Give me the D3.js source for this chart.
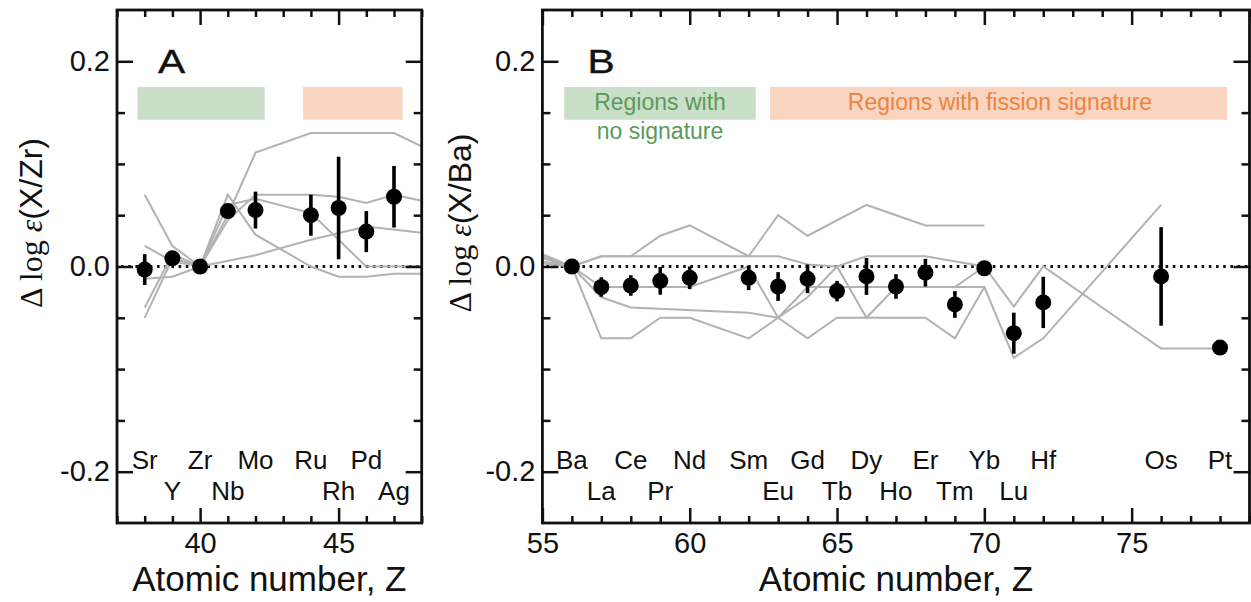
<!DOCTYPE html>
<html>
<head>
<meta charset="UTF-8">
<script src="https://cdn.jsdelivr.net/npm/d3@7"></script>
<style>
  body { margin: 0; background: #fff; }
  svg text { font-family: "Liberation Sans", Arial, Helvetica, sans-serif; fill: #111; }
</style>
</head>
<body>
<svg id="chart" width="1251" height="602"></svg>
<script>
// ---- panel A : X/Zr ----
const zA    = [38, 39, 40, 41, 42, 44, 45, 46, 47];
const symA  = ["Sr", "Y", "Zr", "Nb", "Mo", "Ru", "Rh", "Pd", "Ag"];
const rowA  = [1, 2, 1, 2, 1, 1, 2, 1, 2];
const obsA  = [-0.003, 0.008, 0, 0.054, 0.055, 0.050, 0.057, 0.034, 0.068];
const errA  = [0.015, 0.006, 0, 0.005, 0.018, 0.020, 0.050, 0.020, 0.030];

// model curves, panel A (null = no vertex)
const zModA = [38, 39, 40, 41, 42, 44, 45, 46, 47, 48];
const modA1 = [-0.040, 0.012, 0, 0.050, 0.111, 0.130, 0.130, 0.130, 0.130, 0.117];
const modA2 = [0.020, 0.005, 0, 0.045, 0.070, 0.070, 0.068, 0.062, 0.070, 0.064];
const modA3 = [0.070, 0.020, 0, 0.070, 0.031, 0.000, -0.010, -0.010, -0.007, -0.007];
const modA4 = [-0.012, -0.010, 0, null, 0.011, 0.026, null, 0.039, null, 0.033];
const modA5 = [-0.050, 0.008, 0, 0.060, 0.066, 0.052, 0.026, 0.000, 0.000, 0.000];

// ---- panel B : X/Ba ----
const zB    = [56, 57, 58, 59, 60, 62, 63, 64, 65, 66, 67, 68, 69, 70, 71, 72, 76, 78];
const symB  = ["Ba", "La", "Ce", "Pr", "Nd", "Sm", "Eu", "Gd", "Tb", "Dy", "Ho", "Er", "Tm", "Yb", "Lu", "Hf", "Os", "Pt"];
const rowB  = [1, 2, 1, 2, 1, 1, 2, 1, 2, 1, 2, 1, 2, 1, 2, 1, 1, 1];
const obsB  = [0, -0.020, -0.0185, -0.014, -0.011, -0.011, -0.0195, -0.012, -0.024, -0.0097, -0.0195, -0.006, -0.037, -0.0017, -0.065, -0.035, -0.0097, -0.079];
const errB  = [0, 0.0095, 0.010, 0.0135, 0.011, 0.012, 0.014, 0.014, 0.010, 0.018, 0.012, 0.0135, 0.013, 0.005, 0.020, 0.025, 0.048, 0];

const zModB = [55, 56, 57, 58, 59, 60, 62, 63, 64, 65, 66, 67, 68, 69, 70, 71, 72, 76, 78];
const modB1 = [0.012, 0, 0.010, 0.010, 0.030, 0.040, 0.010, 0.050, 0.030, null, 0.060, null, 0.040, null, 0.040, null, null, null, null];
const modB2 = [0.010, 0, 0.010, 0.010, null, 0.010, 0.010, 0.010, 0.002, 0.000, 0.010, null, 0.010, null, 0.000, -0.039, 0.000, -0.080, -0.080];
const modB3 = [0.008, 0, -0.020, -0.020, -0.020, -0.020, 0.000, -0.050, -0.020, -0.020, -0.020, -0.020, -0.020, -0.020, -0.020, -0.089, -0.070, 0.060, null];
const modB4 = [0.005, 0, -0.030, -0.040, null, null, -0.045, -0.050, -0.030, 0.000, -0.050, -0.020, -0.020, -0.020, 0.000, null, null, null, null];
const modB5 = [0.003, 0, -0.070, -0.070, -0.050, -0.050, -0.070, -0.050, -0.070, -0.050, null, null, -0.050, -0.070, -0.020, null, null, null, null];

const svg = d3.select("#chart");
const SANS = '"Liberation Sans", Arial, sans-serif';
const SERIF = '"Liberation Serif", "DejaVu Serif", serif';

function drawPanel(p) {
  const x = d3.scaleLinear().domain(p.xDomain).range([p.left, p.right]);
  const y = d3.scaleLinear().domain([-0.25, 0.25]).range([p.bottom, p.top]);
  const g = svg.append("g");

  // shaded regions
  p.bands.forEach(b => {
    g.append("rect")
      .attr("x", x(b.z0)).attr("width", x(b.z1) - x(b.z0))
      .attr("y", y(0.175)).attr("height", y(0.143) - y(0.175))
      .attr("fill", b.fill);
  });

  // zero line
  g.append("line")
    .attr("x1", x(p.xDomain[0]) + 4).attr("x2", x(p.xDomain[1]) - 2)
    .attr("y1", y(0)).attr("y2", y(0))
    .attr("stroke", "#111").attr("stroke-width", 2.8)
    .attr("stroke-dasharray", "2.6,4.6");

  // model curves
  const line = d3.line().x(d => x(d[0])).y(d => y(d[1]));
  p.models.forEach(m => {
    const pts = p.zMod.map((z, i) => [z, m[i]]).filter(d => d[1] !== null);
    g.append("path").attr("d", line(pts))
      .attr("fill", "none").attr("stroke", "#b2b2b2").attr("stroke-width", 2);
  });

  // error bars + points
  p.z.forEach((z, i) => {
    if (p.err[i] > 0) {
      g.append("line")
        .attr("x1", x(z)).attr("x2", x(z))
        .attr("y1", y(p.obs[i] - p.err[i])).attr("y2", y(p.obs[i] + p.err[i]))
        .attr("stroke", "#000").attr("stroke-width", 3.6);
    }
  });
  g.selectAll("circle.pt").data(p.z).enter().append("circle")
    .attr("cx", d => x(d)).attr("cy", (d, i) => y(p.obs[i]))
    .attr("r", 8).attr("fill", "#000");

  // element labels
  p.z.forEach((z, i) => {
    g.append("text").attr("x", x(z)).attr("y", p.row[i] === 1 ? 469 : 500)
      .attr("text-anchor", "middle").attr("font-size", 26).text(p.sym[i]);
  });

  // axes: major + minor, ticks inward on all sides
  const xMajor = d3.range(Math.ceil(p.xDomain[0] / 5) * 5, p.xDomain[1] + 0.01, 5);
  const xMinor = d3.range(p.xDomain[0], p.xDomain[1] + 0.01, 1).filter(v => v % 5 !== 0);
  const yMajor = [-0.2, 0, 0.2];
  const yMinor = [-0.15, -0.1, -0.05, 0.05, 0.1, 0.15];

  const ax = (gen, tr, sc, vals, size, labels) => {
    const a = gen(sc).tickValues(vals).tickSizeInner(-size).tickSizeOuter(0).tickPadding(labels ? 9 : 0);
    a.tickFormat(labels ? labels : () => "");
    const s = g.append("g").attr("transform", tr).call(a);
    s.select(".domain").remove();
    s.selectAll(".tick line").attr("stroke", "#111").attr("stroke-width", 2.5);
    s.selectAll("text").attr("font-size", 29).attr("fill", "#111").style("font-family", SANS);
    return s;
  };
  ax(d3.axisBottom, `translate(0,${p.bottom})`, x, xMajor, 15, d => d);
  ax(d3.axisBottom, `translate(0,${p.bottom})`, x, xMinor, 7);
  ax(d3.axisTop, `translate(0,${p.top})`, x, xMajor, 15);
  ax(d3.axisTop, `translate(0,${p.top})`, x, xMinor, 7);
  const yl = ax(d3.axisLeft, `translate(${p.left},0)`, y, yMajor, 16, d => d.toFixed(1));
  yl.selectAll(".tick text").attr("x", -7);
  ax(d3.axisLeft, `translate(${p.left},0)`, y, yMinor, 8);
  ax(d3.axisRight, `translate(${p.right},0)`, y, yMajor, 16);
  ax(d3.axisRight, `translate(${p.right},0)`, y, yMinor, 8);

  // frame
  g.append("rect").attr("x", p.left).attr("y", p.top)
    .attr("width", p.right - p.left).attr("height", p.bottom - p.top)
    .attr("fill", "none").attr("stroke", "#111").attr("stroke-width", 2.8);

  // panel letter
  g.append("text")
    .attr("transform", `translate(${p.left + p.letterDx},73) scale(1.2,1)`)
    .attr("font-size", 34).attr("stroke", "#111").attr("stroke-width", 0.4)
    .text(p.letter);

  // axis titles
  g.append("text").attr("x", (p.left + p.right) / 2).attr("y", 591)
    .attr("text-anchor", "middle").attr("font-size", 35).text("Atomic number, Z");

  const yt = g.append("text")
    .attr("transform", `translate(${p.yTitleX},223) rotate(-90)`)
    .attr("text-anchor", "middle").attr("font-size", 32);
  yt.append("tspan").style("font-family", SERIF).text("\u0394 log ");
  yt.append("tspan").style("font-family", SERIF).attr("font-style", "italic").text("\u03b5");
  yt.append("tspan").text(p.yTitle);

  return { x, y, g };
}

drawPanel({
  left: 117, right: 421.7, top: 10, bottom: 523,
  xDomain: [37, 48],
  z: zA, sym: symA, row: rowA, obs: obsA, err: errA,
  zMod: zModA, models: [modA1, modA2, modA3, modA4, modA5],
  bands: [{ z0: 37.74, z1: 42.33, fill: "#c9dfc8" }, { z0: 43.72, z1: 47.3, fill: "#f9d4bf" }],
  letter: "A", letterDx: 41, yTitle: "(X/Zr)", yTitleX: 42
});

const pb = drawPanel({
  left: 542.4, right: 1249.5, top: 10, bottom: 523,
  xDomain: [55, 79],
  z: zB, sym: symB, row: rowB, obs: obsB, err: errB,
  zMod: zModB, models: [modB1, modB2, modB3, modB4, modB5],
  bands: [{ z0: 55.74, z1: 62.24, fill: "#c9dfc8" }, { z0: 62.73, z1: 78.24, fill: "#f9d4bf" }],
  letter: "B", letterDx: 45, yTitle: "(X/Ba)", yTitleX: 471
});

const green = "#5b9a5a", orange = "#ec8440";
pb.g.append("text").attr("x", 660).attr("y", 110).attr("text-anchor", "middle")
  .attr("font-size", 23).style("fill", green).text("Regions with");
pb.g.append("text").attr("x", 660).attr("y", 139).attr("text-anchor", "middle")
  .attr("font-size", 23).style("fill", green).text("no signature");
pb.g.append("text").attr("x", 1000).attr("y", 110).attr("text-anchor", "middle")
  .attr("font-size", 23).style("fill", orange).text("Regions with fission signature");
</script>
</body>
</html>
